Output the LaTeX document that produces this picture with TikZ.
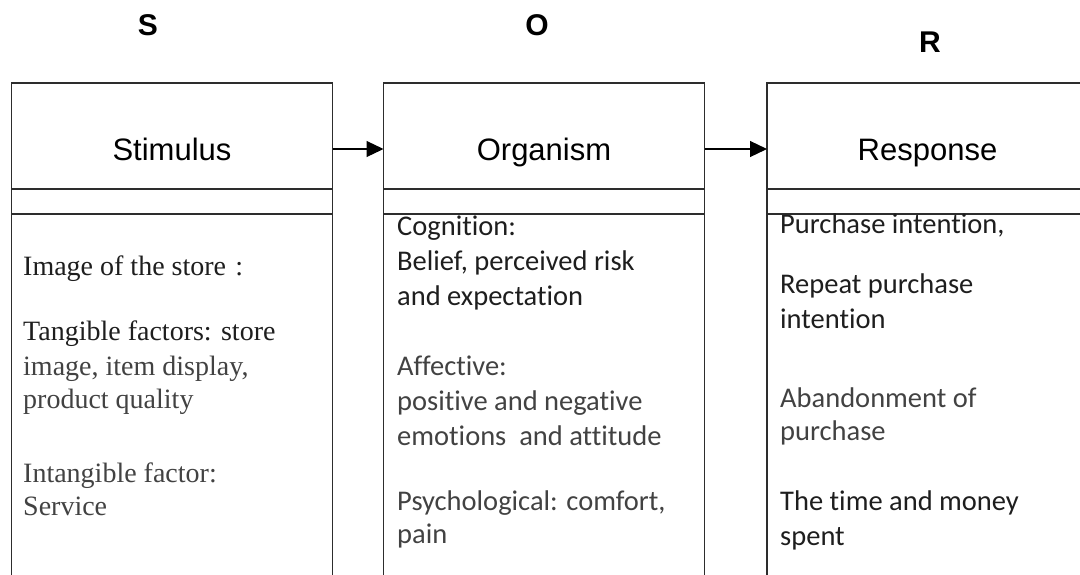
\documentclass[tikz,border=0pt]{standalone}
\usepackage{fontspec}
\usepackage{tikz}
\usepackage{xcolor}
\setmainfont{Liberation Serif}
\newfontfamily\arialfont{Liberation Sans}
\newfontfamily\calibrifont[RawFeature={-liga}]{Carlito}
\usetikzlibrary{arrows.meta,positioning}
\definecolor{ink}{RGB}{30, 30, 30}
\definecolor{soft}{RGB}{66, 66, 66}
\definecolor{frame}{RGB}{45, 45, 45}
\tikzstyle{cellbox} = [
    rectangle,
    draw=frame,
    line width=1.2pt,
    minimum width=321pt,
    inner sep=0pt,
    outer sep=0pt
]
\tikzstyle{headtitle} = [
    font=\arialfont\fontsize{31}{31}\selectfont,
    text=black,
    anchor=base
]
\tikzstyle{sorlabel} = [
    font=\arialfont\bfseries\fontsize{30}{30}\selectfont,
    text=black
]
\tikzstyle{serifline} = [
    font=\fontsize{28}{28}\selectfont,
    anchor=base west,
    inner sep=0pt
]
\tikzstyle{sansline} = [
    font=\calibrifont\fontsize{28.5}{28.5}\selectfont,
    anchor=base west,
    inner sep=0pt
]
\tikzstyle{arrow} = [
    line width=1.2pt,
    -{Triangle[length=17pt,width=16pt]},
    draw=black
]

\begin{document}
\begin{tikzpicture}[x=1pt,y=-1pt]
    \clip (0,0) rectangle (1080,574);
    % S, O, R
    \foreach \n/\x/\y/\l in {s/148/25/S, o/537/25/O, r/930/42/R} {
        \node[sorlabel] (\n-label) at (\x,\y) {\l};
    }
    % three columns
    \foreach \n/\x/\t in {stim/172/Stimulus, org/544/Organism, resp/927.5/Response} {
        \node[cellbox, minimum height=106pt] (\n-head) at (\x,136) {};
        \node[cellbox, minimum height=25pt, below=0pt of \n-head] (\n-gap) {};
        \node[cellbox, minimum height=400pt, below=0pt of \n-gap] (\n-body) {};
        \node[headtitle] (\n-title) at (\x,160) {\t};
    }
    \draw[arrow] ([yshift=-13pt]stim-head.east) -- ([yshift=-13pt]org-head.west);
    \draw[arrow] ([yshift=-13pt]org-head.east) -- ([yshift=-13pt]resp-head.west);
    % stimulus text
    \foreach \y/\c/\t in {
        275/ink/Image of the store\,\,:,
        340/ink/Tangible factors: store,
        375/soft/{image, item display,},
        408/soft/product quality,
        482/soft/Intangible factor:,
        515/soft/Service
    } {
        \node[serifline, text=\c] (stim-line\y) at (23,\y) {\t};
    }
    % organism text
    \foreach \y/\c/\t in {
        235/ink/Cognition:,
        270/ink/{Belief, perceived risk},
        305/ink/and expectation,
        375/soft/Affective:,
        410/soft/positive and negative,
        445/soft/emotions\ \ and attitude,
        510/soft/{Psychological: comfort,},
        543/soft/pain
    } {
        \node[sansline, text=\c] (org-line\y) at (397,\y) {\t};
    }
    % response text
    \foreach \y/\c/\t in {
        233/ink/{Purchase intention,},
        293/ink/Repeat purchase,
        328/ink/intention,
        407/soft/Abandonment of,
        440/soft/purchase,
        510/ink/The time and money,
        545/ink/spent
    } {
        \node[sansline, text=\c] (resp-line\y) at (780,\y) {\t};
    }
\end{tikzpicture}
\end{document}
